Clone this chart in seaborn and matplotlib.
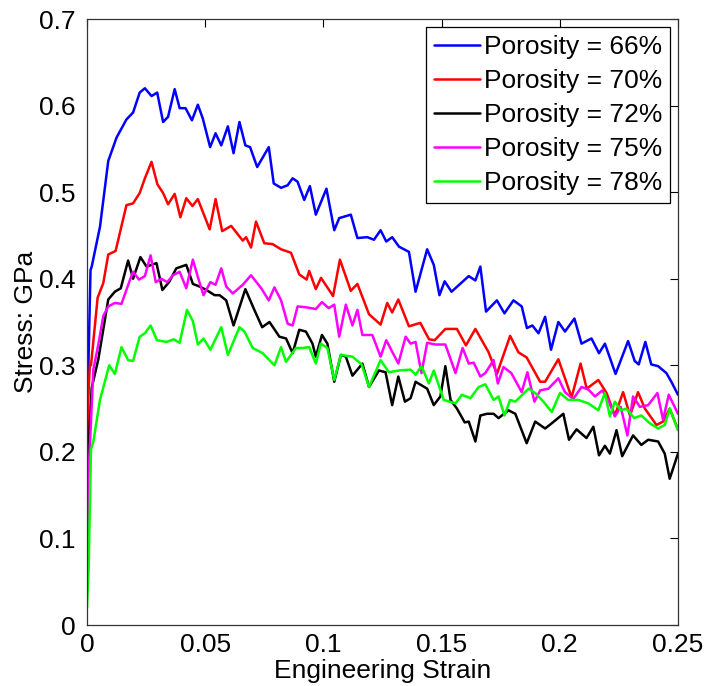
import numpy as np
import pandas as pd
import seaborn as sns
import matplotlib
matplotlib.use("Agg")
from matplotlib import pyplot as plt
from matplotlib.ticker import FuncFormatter

# values
strain_66 = [0, 0.0006, 0.0015, 0.002, 0.0055, 0.009, 0.0125, 0.0167, 0.0195, 0.0223,
             0.0245, 0.0273, 0.0297, 0.0322, 0.0343, 0.0371, 0.0392, 0.0417, 0.0444, 0.0469,
             0.049, 0.0521, 0.0544, 0.0568, 0.0596, 0.062, 0.0645, 0.067, 0.069, 0.072,
             0.0769, 0.079, 0.0821, 0.0849, 0.087, 0.0891, 0.0919, 0.0943, 0.0968, 0.1013,
             0.1046, 0.1067, 0.1116, 0.1144, 0.1186, 0.1214, 0.1242, 0.1266, 0.1291, 0.132,
             0.1362, 0.139, 0.1439, 0.1467, 0.1491, 0.1513, 0.1542, 0.1615, 0.1643, 0.1664,
             0.1688, 0.1734, 0.1766, 0.1804, 0.1839, 0.1861, 0.1884, 0.191, 0.1938, 0.1963,
             0.1994, 0.2022, 0.2062, 0.2092, 0.2134, 0.2166, 0.2191, 0.2236, 0.2289, 0.2317,
             0.2334, 0.2362, 0.2387, 0.2416, 0.2451, 0.2472, 0.25]
stress_66 = [0.18, 0.30, 0.41, 0.414, 0.46, 0.536, 0.563, 0.584, 0.592, 0.615,
             0.620, 0.611, 0.615, 0.581, 0.587, 0.619, 0.597, 0.597, 0.583, 0.601,
             0.585, 0.552, 0.568, 0.554, 0.576, 0.545, 0.581, 0.554, 0.552, 0.529,
             0.552, 0.510, 0.505, 0.508, 0.516, 0.512, 0.491, 0.507, 0.474, 0.504,
             0.456, 0.470, 0.474, 0.447, 0.448, 0.445, 0.456, 0.443, 0.448, 0.437,
             0.431, 0.385, 0.434, 0.416, 0.381, 0.397, 0.385, 0.403, 0.398, 0.414,
             0.362, 0.375, 0.360, 0.375, 0.368, 0.343, 0.346, 0.337, 0.356, 0.318,
             0.350, 0.339, 0.354, 0.325, 0.331, 0.314, 0.325, 0.290, 0.328, 0.305,
             0.301, 0.327, 0.301, 0.299, 0.291, 0.281, 0.266]

strain_70 = [0, 0.0005, 0.0012, 0.0017, 0.0045, 0.0069, 0.009, 0.0121, 0.0167, 0.0195,
             0.0223, 0.0245, 0.0273, 0.0298, 0.0322, 0.0343, 0.0371, 0.0395, 0.042, 0.0446,
             0.0469, 0.0519, 0.0544, 0.0572, 0.061, 0.0659, 0.0673, 0.0694, 0.0715, 0.075,
             0.0785, 0.0821, 0.0863, 0.0898, 0.0929, 0.094, 0.0968, 0.099, 0.1041, 0.107,
             0.1116, 0.1144, 0.1193, 0.1242, 0.127, 0.1291, 0.1317, 0.1362, 0.141, 0.1447,
             0.1471, 0.1516, 0.1565, 0.1603, 0.1643, 0.1699, 0.1734, 0.179, 0.1825, 0.186,
             0.1917, 0.1938, 0.1994, 0.205, 0.2088, 0.2114, 0.2163, 0.2198, 0.2233, 0.2268,
             0.2297, 0.2331, 0.236, 0.2409, 0.2437, 0.2465, 0.25]
stress_70 = [0.17, 0.26, 0.30, 0.30, 0.378, 0.395, 0.428, 0.432, 0.485, 0.487,
             0.499, 0.516, 0.535, 0.509, 0.499, 0.486, 0.498, 0.471, 0.493, 0.484,
             0.492, 0.457, 0.492, 0.455, 0.461, 0.444, 0.448, 0.436, 0.466, 0.441,
             0.440, 0.434, 0.430, 0.405, 0.399, 0.409, 0.388, 0.401, 0.380, 0.422,
             0.386, 0.394, 0.359, 0.347, 0.372, 0.361, 0.376, 0.345, 0.349, 0.330,
             0.329, 0.342, 0.342, 0.323, 0.342, 0.315, 0.290, 0.334, 0.315, 0.309,
             0.281, 0.281, 0.307, 0.263, 0.302, 0.273, 0.283, 0.268, 0.242, 0.269,
             0.242, 0.269, 0.250, 0.231, 0.235, 0.250, 0.226]

strain_72 = [0, 0.0006, 0.002, 0.0048, 0.009, 0.0118, 0.0143, 0.0174, 0.0195, 0.0226,
             0.0252, 0.0294, 0.0319, 0.0347, 0.0378, 0.042, 0.0448, 0.0476, 0.0505, 0.054,
             0.0561, 0.0589, 0.062, 0.067, 0.0708, 0.0741, 0.0772, 0.0814, 0.0842, 0.087,
             0.0898, 0.0926, 0.0954, 0.0968, 0.0994, 0.1017, 0.1046, 0.1074, 0.1095, 0.1123,
             0.1165, 0.1193, 0.1235, 0.1263, 0.1291, 0.1317, 0.1345, 0.1369, 0.139, 0.1439,
             0.1467, 0.1495, 0.1516, 0.1538, 0.1565, 0.1598, 0.1615, 0.1643, 0.1664, 0.1692,
             0.172, 0.1741, 0.1783, 0.1812, 0.186, 0.1896, 0.1938, 0.1966, 0.2015, 0.2039,
             0.2071, 0.2113, 0.2142, 0.2166, 0.2191, 0.2212, 0.224, 0.2264, 0.231, 0.2345,
             0.2374, 0.2416, 0.2444, 0.2465, 0.25]
stress_72 = [0.10, 0.20, 0.274, 0.307, 0.376, 0.385, 0.389, 0.421, 0.400, 0.425,
             0.414, 0.418, 0.387, 0.396, 0.412, 0.416, 0.394, 0.391, 0.387, 0.381,
             0.381, 0.375, 0.346, 0.388, 0.364, 0.344, 0.350, 0.333, 0.331, 0.314,
             0.341, 0.339, 0.325, 0.310, 0.335, 0.325, 0.281, 0.312, 0.310, 0.288,
             0.302, 0.275, 0.294, 0.292, 0.254, 0.287, 0.258, 0.262, 0.281, 0.273,
             0.254, 0.264, 0.299, 0.260, 0.250, 0.234, 0.235, 0.212, 0.242, 0.244,
             0.244, 0.239, 0.248, 0.244, 0.210, 0.235, 0.227, 0.233, 0.244, 0.214,
             0.226, 0.216, 0.229, 0.196, 0.207, 0.198, 0.225, 0.195, 0.219, 0.208,
             0.214, 0.212, 0.198, 0.169, 0.198]

strain_75 = [0, 0.0006, 0.0027, 0.0048, 0.0069, 0.009, 0.0118, 0.0146, 0.0181, 0.0195,
             0.022, 0.0245, 0.0269, 0.0291, 0.0315, 0.0339, 0.0364, 0.0392, 0.042, 0.0448,
             0.0469, 0.0493, 0.0522, 0.0544, 0.0568, 0.0589, 0.0617, 0.0659, 0.0694, 0.0737,
             0.0769, 0.0793, 0.0821, 0.0849, 0.087, 0.0891, 0.0926, 0.0968, 0.0994, 0.1022,
             0.1046, 0.1067, 0.1095, 0.1123, 0.1144, 0.1165, 0.1207, 0.1242, 0.1266, 0.1317,
             0.1348, 0.1369, 0.139, 0.1415, 0.1439, 0.1474, 0.1516, 0.1559, 0.1589, 0.1615,
             0.1636, 0.1664, 0.1685, 0.172, 0.1738, 0.1762, 0.1795, 0.1839, 0.1863, 0.1893,
             0.1917, 0.1952, 0.1994, 0.2022, 0.2057, 0.2092, 0.2121, 0.2149, 0.218, 0.2205,
             0.2233, 0.2258, 0.2286, 0.231, 0.2339, 0.2374, 0.2413, 0.2437, 0.2461, 0.25]
stress_75 = [0.10, 0.17, 0.295, 0.324, 0.357, 0.368, 0.372, 0.371, 0.398, 0.408,
             0.399, 0.403, 0.427, 0.396, 0.400, 0.396, 0.404, 0.408, 0.389, 0.422,
             0.402, 0.381, 0.396, 0.393, 0.412, 0.391, 0.383, 0.393, 0.404, 0.389,
             0.375, 0.390, 0.375, 0.348, 0.346, 0.368, 0.367, 0.365, 0.373, 0.366,
             0.370, 0.333, 0.370, 0.346, 0.364, 0.335, 0.335, 0.310, 0.329, 0.302,
             0.333, 0.325, 0.327, 0.291, 0.326, 0.324, 0.324, 0.291, 0.320, 0.302,
             0.303, 0.287, 0.291, 0.306, 0.279, 0.298, 0.291, 0.269, 0.292, 0.258,
             0.271, 0.273, 0.285, 0.269, 0.261, 0.275, 0.272, 0.264, 0.271, 0.260,
             0.241, 0.252, 0.219, 0.264, 0.252, 0.254, 0.268, 0.237, 0.266, 0.244]

strain_78 = [0, 0.0007, 0.0017, 0.0027, 0.0055, 0.0094, 0.0118, 0.0146, 0.0174, 0.0195,
             0.0223, 0.0245, 0.0269, 0.0296, 0.0336, 0.0367, 0.0392, 0.0423, 0.0448, 0.0469,
             0.0493, 0.0522, 0.0568, 0.0596, 0.0645, 0.0666, 0.0701, 0.0743, 0.0793, 0.0821,
             0.0842, 0.0884, 0.0912, 0.094, 0.0968, 0.0989, 0.1017, 0.1046, 0.1074, 0.1123,
             0.1162, 0.1193, 0.1242, 0.1277, 0.132, 0.1369, 0.139, 0.1415, 0.1446, 0.1467,
             0.1509, 0.1559, 0.1586, 0.1622, 0.1657, 0.1685, 0.172, 0.1741, 0.1766, 0.179,
             0.1812, 0.1868, 0.1896, 0.1931, 0.1966, 0.2001, 0.2036, 0.2078, 0.2121, 0.2163,
             0.2191, 0.2212, 0.2233, 0.2258, 0.2282, 0.2315, 0.2345, 0.2381, 0.2416, 0.2444,
             0.2465, 0.25]
stress_78 = [0.02, 0.066, 0.203, 0.212, 0.260, 0.300, 0.290, 0.321, 0.306, 0.305,
             0.333, 0.337, 0.346, 0.329, 0.327, 0.330, 0.326, 0.364, 0.351, 0.324,
             0.331, 0.318, 0.344, 0.312, 0.344, 0.339, 0.320, 0.314, 0.300, 0.321,
             0.304, 0.320, 0.320, 0.321, 0.302, 0.325, 0.320, 0.283, 0.312, 0.310,
             0.301, 0.275, 0.306, 0.292, 0.294, 0.295, 0.289, 0.299, 0.279, 0.294,
             0.260, 0.256, 0.266, 0.262, 0.275, 0.278, 0.260, 0.264, 0.242, 0.260,
             0.258, 0.273, 0.268, 0.258, 0.246, 0.268, 0.260, 0.260, 0.256, 0.248,
             0.268, 0.241, 0.258, 0.248, 0.250, 0.239, 0.242, 0.233, 0.227, 0.231,
             0.250, 0.225]

labels = ["Porosity = 66%", "Porosity = 70%", "Porosity = 72%",
          "Porosity = 75%", "Porosity = 78%"]
colors = ["#0000ff", "#ff0000", "#000000", "#ff00ff", "#00ff00"]

x_ticks = [0, 0.05, 0.1, 0.15, 0.2, 0.25]
y_ticks = [0, 0.1, 0.2, 0.3, 0.4, 0.5, 0.6, 0.7]

series = [(strain_66, stress_66), (strain_70, stress_70), (strain_72, stress_72),
          (strain_75, stress_75), (strain_78, stress_78)]

frames = []
for lab, (sx, sy) in zip(labels, series):
    frames.append(pd.DataFrame({"strain": sx, "stress": sy, "Porosity": lab}))
df = pd.concat(frames, ignore_index=True)

sns.set_style("white")
plt.rcParams["font.family"] = ["Liberation Sans", "DejaVu Sans"]
plt.rcParams["text.color"] = "black"
plt.rcParams["axes.labelcolor"] = "black"

fig = plt.figure(figsize=(7.06, 6.86), dpi=100)
ax = fig.add_axes([0.1232, 0.0889, 0.8371, 0.8834])

sns.lineplot(data=df, x="strain", y="stress", hue="Porosity",
             hue_order=labels, palette=dict(zip(labels, colors)),
             estimator=None, sort=False, linewidth=1.8, ax=ax)

ax.set_xlim(0, 0.25)
ax.set_ylim(0, 0.7)
ax.set_xticks(x_ticks)
ax.set_yticks(y_ticks)
fmt = FuncFormatter(lambda v, p: f"{v:g}")
ax.xaxis.set_major_formatter(fmt)
ax.yaxis.set_major_formatter(fmt)
ax.tick_params(direction="in", top=True, right=True, length=6, width=0.8,
               labelsize=19, colors="black")
ax.tick_params(axis="x", pad=6)
ax.tick_params(axis="y", pad=8)
for sp in ax.spines.values():
    sp.set_visible(True)
    sp.set_color("#333333")
    sp.set_linewidth(0.9)

ax.set_xlabel("Engineering Strain", fontsize=19, labelpad=1)
ax.set_ylabel("Stress: GPa", fontsize=19, labelpad=1)

sns.move_legend(ax, "upper right", title=None, frameon=True, fancybox=False,
                edgecolor="black", framealpha=1, fontsize=19, handlelength=1.75,
                borderaxespad=0.3, labelspacing=0.38, borderpad=0.3,
                handletextpad=0.15)
leg = ax.get_legend()
leg.get_frame().set_linewidth(0.9)
for t in leg.get_texts():
    t.set_color("black")

plt.savefig("out.png", dpi=100)
